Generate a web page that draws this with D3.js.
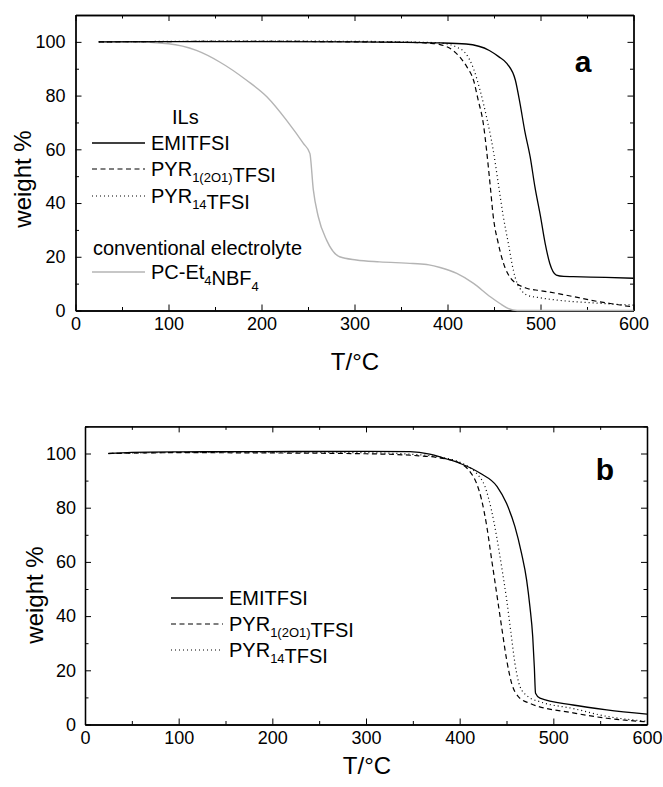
<!DOCTYPE html>
<html><head><meta charset="utf-8">
<script src="https://cdn.jsdelivr.net/npm/d3@7"></script>
<style>
html,body{margin:0;padding:0;background:#fff;}
text{font-family:Arial,"Liberation Sans",sans-serif;fill:#000;}
</style></head>
<body>
<svg id="chart" width="663" height="787"></svg>
<script>
// ---------------- DATA ----------------
const xTicks = [0, 100, 200, 300, 400, 500, 600];
const xMinor = [50, 150, 250, 350, 450, 550];
const yTicks = [0, 20, 40, 60, 80, 100];
const yMinor = [10, 30, 50, 70, 90, 110];

// panel a  [T (°C), weight %]
const emiA = [[25,100],[100,100.1],[200,100.1],[300,100],[392,99.6],[420,99.2],[445,96.8],[455,94.5],[464,91.9],[473,85.7],[478,77],[483,67],[489,57],[494,46],[500,35],[505,25],[510,17.5],[517,13.2],[525,12.7],[535,12.6],[570,12.3],[600,12]];
const pyr12o1A = [[25,100],[200,100.2],[300,100],[360,99.8],[380,99.5],[392,99],[406,96.8],[414,94],[421,90.6],[428,85.7],[433,78.3],[438.5,69.6],[442,59.7],[445.7,47.3],[449.2,35],[454.6,25],[461.8,16],[468,12],[474.4,10],[485,8.3],[500,7.4],[517,6.4],[535,5.2],[553,3.9],[575,2.6],[600,1.3]];
const pyr14A = [[25,100],[200,100.3],[300,100.2],[380,99.8],[400,99.2],[410,98],[420,95.5],[428,90],[435,82],[442,72],[449,60],[454.6,47.3],[460,35],[465.4,25],[470.8,15],[475,10],[480,7.3],[485,5.8],[500,4.7],[517,3.9],[553,2.9],[600,2]];
const pcA = [[25,100],[60,100],[100,99.3],[130,96.8],[155,92.5],[184,85.7],[206,79.5],[227,70.8],[245,62.2],[252,58.5],[255.7,45],[261,35],[270,26.2],[284,20],[302,18.8],[327,18.1],[363,17.5],[380,17],[392,16],[410,13.8],[428,10.1],[446,5.1],[456,2.7],[465,0.8],[475,0],[600,0]];

// panel b
const emiB = [[25,100],[50,100.4],[100,100.6],[187,100.7],[300,100.8],[347,100.7],[368,99.8],[379,98.8],[390,97.6],[400,96.4],[422,92.7],[440,87.8],[450,81.6],[459,73],[466,63.2],[471.5,53.3],[475,43.5],[478,32.4],[479.7,21.3],[481,11.5],[485.7,9.7],[521,7.2],[557,5.4],[600,3.8]];
const pyr12o1B = [[25,100],[100,100.3],[200,100.2],[300,99.9],[350,99.3],[380,98.3],[400,96.5],[411,93.3],[418,89],[423.5,82.8],[429,73],[434.2,60.7],[439.5,48.4],[444.8,36],[450.2,23.8],[455.5,15.2],[462.6,10.3],[475,7.8],[521,4.3],[557,2.3],[600,1]];
const pyr14B = [[25,100],[100,100.4],[200,100.5],[300,100.3],[350,99.7],[380,98.6],[400,96.8],[410,95],[418,92.7],[427,87.8],[434,79],[439.5,69.3],[444.8,58.2],[450.2,46],[454.8,33.7],[459,22.6],[464.4,14],[473,10.3],[485.7,8.4],[521,5.9],[557,3],[600,1.2]];

// ---------------- STYLE ----------------
const styles = {
  emi:  {stroke:"#000", dash:null, w:1.3},
  pyr12:{stroke:"#000", dash:"5,3.5", w:1.2},
  pyr14:{stroke:"#000", dash:"1,3", w:1.2},
  pc:   {stroke:"#b4b4b4", dash:null, w:1.4}
};

const svg = d3.select("#chart");
svg.append("rect").attr("width",663).attr("height",787).attr("fill","#fff");

function panel(cfg){
  const x = d3.scaleLinear().domain([0,600]).range([cfg.x0, cfg.x1]);
  const y = d3.scaleLinear().domain([0,110]).range([cfg.y0, cfg.y1]);
  const g = svg.append("g");

  const fontTick = "18px";
  // bottom major with labels
  const bx = g.append("g").attr("transform",`translate(0,${cfg.y0})`)
    .call(d3.axisBottom(x).tickValues(xTicks).tickSizeInner(-6).tickSizeOuter(0).tickPadding(7).tickFormat(d3.format("d")));
  bx.selectAll("text").style("font-size",fontTick).attr("dy","0.71em");
  g.append("g").attr("transform",`translate(0,${cfg.y0})`)
    .call(d3.axisBottom(x).tickValues(xMinor).tickSizeInner(-3.5).tickSizeOuter(0).tickFormat(""));
  // top
  g.append("g").attr("transform",`translate(0,${cfg.y1})`)
    .call(d3.axisTop(x).tickValues(xTicks).tickSizeInner(-6).tickSizeOuter(0).tickFormat(""));
  g.append("g").attr("transform",`translate(0,${cfg.y1})`)
    .call(d3.axisTop(x).tickValues(xMinor).tickSizeInner(-3.5).tickSizeOuter(0).tickFormat(""));
  // left
  const ly = g.append("g").attr("transform",`translate(${cfg.x0},0)`)
    .call(d3.axisLeft(y).tickValues(yTicks).tickSizeInner(-6).tickSizeOuter(0).tickPadding(cfg.yPad).tickFormat(d3.format("d")));
  ly.selectAll("text").style("font-size",fontTick);
  g.append("g").attr("transform",`translate(${cfg.x0},0)`)
    .call(d3.axisLeft(y).tickValues(yMinor).tickSizeInner(-3.5).tickSizeOuter(0).tickFormat(""));
  // right
  g.append("g").attr("transform",`translate(${cfg.x1},0)`)
    .call(d3.axisRight(y).tickValues(yTicks).tickSizeInner(-6).tickSizeOuter(0).tickFormat(""));
  g.append("g").attr("transform",`translate(${cfg.x1},0)`)
    .call(d3.axisRight(y).tickValues(yMinor).tickSizeInner(-3.5).tickSizeOuter(0).tickFormat(""));
  g.selectAll(".domain").attr("stroke","#000").attr("stroke-width",1.3);
  g.selectAll(".tick line").attr("stroke","#000").attr("stroke-width",1);

  const line = d3.line().x(d=>x(d[0])).y(d=>y(d[1])).curve(d3.curveMonotoneX);
  cfg.series.forEach(s=>{
    const st = styles[s.key];
    g.append("path").datum(s.data).attr("d",line).attr("fill","none")
      .attr("stroke",st.stroke).attr("stroke-width",st.w)
      .attr("stroke-dasharray",st.dash);
  });

  // axis titles
  g.append("text").attr("transform",`translate(${cfg.ylx},${cfg.yly}) rotate(-90)`)
    .attr("text-anchor","middle").style("font-size","24px").text("weight %");
  g.append("text").attr("x",cfg.xlx).attr("y",cfg.xly)
    .attr("text-anchor","middle").style("font-size","24px").text("T/°C");
  // panel letter
  g.append("text").attr("x",cfg.lx).attr("y",cfg.ly).attr("text-anchor","middle")
    .style("font-size","30px").style("font-weight","bold").text(cfg.letter);

  // legend
  cfg.legend.forEach(L=>{
    if(L.key){
      const st = styles[L.key];
      g.append("line").attr("x1",L.lx1).attr("x2",L.lx2).attr("y1",L.y).attr("y2",L.y)
        .attr("stroke",st.stroke).attr("stroke-width",st.w).attr("stroke-dasharray",st.dash);
    }
    const t = g.append("text").attr("x",L.tx).attr("y",L.y+7).style("font-size","20px");
    L.parts.forEach(p=>{
      if(p.sub){
        t.append("tspan").attr("dy",6).style("font-size","13px").text(p.sub);
        t.append("tspan").attr("dy",-6).text("");
      } else {
        t.append("tspan").text(p.t);
      }
    });
  });
}

panel({
  x0:75.5, x1:633.5, y0:310.5, y1:15, yPad:10, letter:"a", lx:583, ly:72,
  ylx:31, yly:179, xlx:355, xly:370,
  series:[{key:"pc",data:pcA},{key:"emi",data:emiA},{key:"pyr12",data:pyr12o1A},{key:"pyr14",data:pyr14A}],
  legend:[
    {tx:172, y:117, parts:[{t:"ILs"}]},
    {key:"emi", lx1:92, lx2:145, tx:151, y:143, parts:[{t:"EMITFSI"}]},
    {key:"pyr12", lx1:92, lx2:145, tx:151, y:169, parts:[{t:"PYR"},{sub:"1(2O1)"},{t:"TFSI"}]},
    {key:"pyr14", lx1:92, lx2:145, tx:151, y:196, parts:[{t:"PYR"},{sub:"14"},{t:"TFSI"}]},
    {tx:93, y:248, parts:[{t:"conventional electrolyte"}]},
    {key:"pc", lx1:92, lx2:145, tx:151, y:272, parts:[{t:"PC-Et"},{sub:"4"},{t:"NBF"},{sub:"4"}]}
  ]
});

panel({
  x0:85, x1:647, y0:724.5, y1:426.4, yPad:9, letter:"b", lx:605, ly:480,
  ylx:43, yly:595, xlx:367, xly:774,
  series:[{key:"emi",data:emiB},{key:"pyr12",data:pyr12o1B},{key:"pyr14",data:pyr14B}],
  legend:[
    {key:"emi", lx1:171, lx2:223, tx:229, y:598, parts:[{t:"EMITFSI"}]},
    {key:"pyr12", lx1:171, lx2:223, tx:229, y:624, parts:[{t:"PYR"},{sub:"1(2O1)"},{t:"TFSI"}]},
    {key:"pyr14", lx1:171, lx2:223, tx:229, y:650, parts:[{t:"PYR"},{sub:"14"},{t:"TFSI"}]}
  ]
});
</script>
</body></html>
